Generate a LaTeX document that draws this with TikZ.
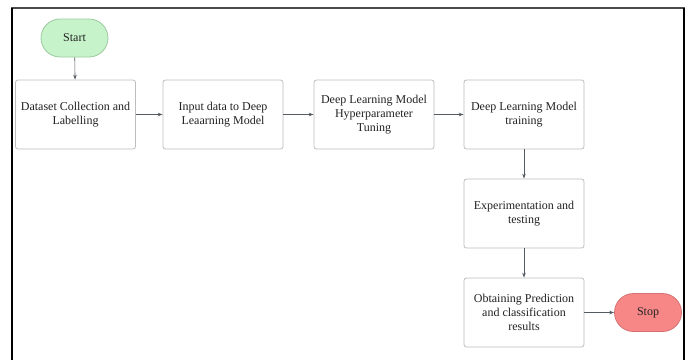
\documentclass[tikz,border=0pt]{standalone}
\usepackage{fontspec}
\setmainfont{Liberation Serif}
\usetikzlibrary{arrows.meta}
\definecolor{boxline}{HTML}{BDBDBD}
\definecolor{startfill}{HTML}{C6F3CA}
\definecolor{startline}{HTML}{9CC99F}
\definecolor{stopfill}{HTML}{F78787}
\definecolor{stopline}{HTML}{D47272}
\definecolor{arrowc}{HTML}{555B63}
\definecolor{txt}{HTML}{222222}
\begin{document}
\begin{tikzpicture}[x=1pt,y=-1pt,
  procbox/.style={draw=boxline, line width=0.8pt, fill=white, rounded corners=2.5pt,
    minimum width=120pt, minimum height=69pt, align=center,
    font=\fontsize{12}{13.8}\selectfont, text=txt, inner sep=0pt},
  term/.style={draw, line width=0.8pt, rounded corners=19pt, minimum width=67pt,
    minimum height=38pt, font=\fontsize{12}{13}\selectfont, text=txt, inner sep=0pt},
  conn/.style={draw=arrowc, line width=0.6pt, -{Stealth[length=5pt,width=3.5pt]}}]
\useasboundingbox (0,0) rectangle (691,360);
% frame
\draw[line width=1.2pt, draw=black!70] (11,8) -- (685,8);
\draw[line width=2.5pt] (12,8) -- (12,360);
\draw[line width=2.5pt] (684,8) -- (684,360);
% nodes
\node[term, fill=startfill, draw=startline] (start) at (74.5,38) {Start};
\node[procbox] (b1) at (75.5,114.5) {Dataset Collection and\\Labelling};
\node[procbox] (b2) at (223,114.5) {Input data to Deep\\Leaarning Model};
\node[procbox] (b3) at (374,114.5) {Deep Learning Model\\Hyperparameter\\Tuning};
\node[procbox] (b4) at (524,114.5) {Deep Learning Model\\training};
\node[procbox] (b5) at (524,213.5) {Experimentation and\\testing};
\node[procbox] (b6) at (524,312.5) {Obtaining Prediction\\and classification\\results};
\node[term, fill=stopfill, draw=stopline] (stop) at (648,312.5) {Stop};
% connectors
\draw[conn] (start) -- (b1);
\draw[conn] (b1) -- (b2);
\draw[conn] (b2) -- (b3);
\draw[conn] (b3) -- (b4);
\draw[conn] (b4) -- (b5);
\draw[conn] (b5) -- (b6);
\draw[conn] (b6) -- (stop);
\end{tikzpicture}
\end{document}
